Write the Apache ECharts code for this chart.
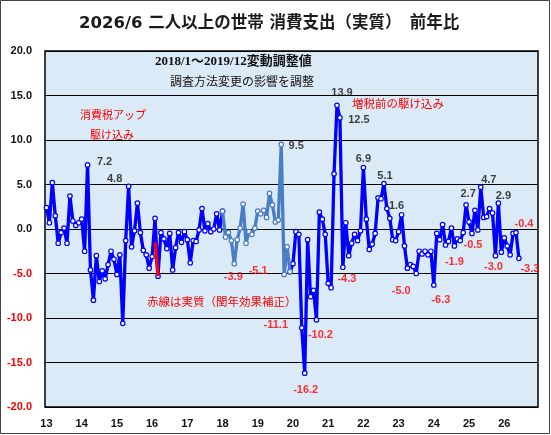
<!DOCTYPE html>
<html><head><meta charset="utf-8">
<script src="https://cdn.jsdelivr.net/npm/echarts@6/dist/echarts.min.js"></script>
<style>html,body{margin:0;padding:0;background:#fff}#c{width:551px;height:435px}</style>
</head><body><div id="c"></div>
<script>
// ---- data (YoY %, real, two-or-more-person households) ----
const y2013 = [2.4, 0.7, 5.2, 1.5, -1.6, -0.4, 0.1, -1.6, 3.7, 0.9, 0.4, 0.7];
const y2014 = [1.1, -2.5, 7.2, -4.6, -8.0, -3.0, -5.9, -4.7, -5.6, -4.0, -2.5, -3.4];
const y2015 = [-5.1, -2.9, -10.6, -1.3, 4.8, -2.0, -0.2, 2.9, -0.4, -2.4, -2.9, -4.4];
const y2016 = [-3.1, 1.2, -5.3, -0.4, -1.1, -2.2, -0.5, -4.6, -2.1, -0.4, -1.5, -0.3];
const y2017 = [-1.2, -3.8, -1.3, -1.4, -0.1, 2.3, -0.2, 0.6, -0.3, 0.0, 1.7, -0.1];
const y2018 = [2.0, -0.9, -0.4, -1.3, -3.9, -1.2, 0.1, 2.8, -1.6, -0.3, -0.6, 0.1];
const y2019 = [2.0, 1.7, 2.1, 1.3, 4.0, 2.7, 0.8, 1.0, 9.5, -5.1, -2.0, -4.8];
const y2020 = [-3.9, -0.3, -0.6, -11.1, -16.2, -1.2, -7.6, -6.9, -10.2, 1.9, 1.1, -0.6];
const y2021 = [-6.1, -6.6, 6.2, 13.9, 12.5, -4.3, 0.7, -3.0, -1.6, -0.6, -1.3, -0.2];
const y2022 = [6.9, 1.1, -2.3, -1.7, -0.5, 3.5, 3.4, 5.1, 2.3, 1.2, -1.2, -1.3];
const y2023 = [-0.3, 1.6, -1.9, -4.4, -4.0, -4.2, -5.0, -2.5, -2.8, -2.5, -2.9, -2.5];
const y2024 = [-6.3, -0.5, -1.2, 0.5, -1.8, -1.4, 0.1, -1.9, -1.1, -1.3, -0.4, 2.7];
const y2025 = [0.8, -0.5, 2.1, -0.1, 4.7, 1.3, 1.4, 2.3, 1.8, -3.0, 2.9, -2.6];
const y2026 = [-1.0, -1.9, -2.9, -0.5, -0.4, -3.3];

const years = [2013,2014,2015,2016,2017,2018,2019,2020,2021,2022,2023,2024,2025,2026];
const xTickLabels = ['13','14','15','16','17','18','19','20','21','22','23','24','25','26'];
const adjustedRange = ['2018/1', '2019/12'];          // 変動調整値 segment
const leapMonths = ['2016/2', '2016/3'];             // red line (閏年効果補正)
const leapValues = [-1.5, -5.3];
const labelMonths = ['2014/3','2015/5','2018/5','2019/9','2019/10','2020/4','2020/5','2020/9',
  '2021/4','2021/5','2021/6','2022/1','2022/8','2023/2','2023/7','2024/1','2024/8','2024/12',
  '2025/2','2025/5','2025/10','2025/11','2026/5','2026/6'];

// ---- build ----
const allValues = [].concat(y2013,y2014,y2015,y2016,y2017,y2018,y2019,y2020,y2021,y2022,y2023,y2024,y2025,y2026);
const categories = [];
years.forEach(y => { for (let m = 1; m <= 12; m++) categories.push(y + '/' + m); });
const idx = c => categories.indexOf(c);
const a0 = idx(adjustedRange[0]), a1 = idx(adjustedRange[1]);

const blueData = allValues.map((v, i) => (i > a0 && i < a1) ? '-' : v);
const lightData = allValues.map((v, i) => (i >= a0 && i <= a1) ? v : '-');
const redData = categories.map(c => { const k = leapMonths.indexOf(c); return k >= 0 ? leapValues[k] : '-'; });

// label offsets (style only)
const labelOffsets = {
  '2014/3':[17,-3], '2015/5':[-14,-7], '2018/5':[-1,13], '2019/9':[15,2], '2019/10':[-26,-3],
  '2020/4':[-26,-3], '2020/5':[1,17], '2020/9':[4,15], '2021/4':[5,-12], '2021/5':[19,2],
  '2021/6':[4,12], '2022/1':[0,-9], '2022/8':[1,-8], '2023/2':[-5,-9], '2023/7':[-15,17],
  '2024/1':[7,15], '2024/8':[0,16], '2024/12':[2,-11], '2025/2':[1,12], '2025/5':[8,-7],
  '2025/10':[-2,11], '2025/11':[5,-7], '2026/5':[8,-9], '2026/6':[11,11]
};
const labelData = labelMonths.map(c => {
  const v = allValues[idx(c)];
  return {
    value: [c, v],
    label: { show: true, position: 'inside', offset: labelOffsets[c] || [0,0],
      color: v < 0 ? '#ff0000' : '#111', formatter: () => v.toFixed(1) }
  };
});

const chart = echarts.init(document.getElementById('c'), null, {renderer: 'canvas'});
const numFont = 'Liberation Sans, Arial, sans-serif';
chart.setOption({
  animation: false,
  backgroundColor: '#ffffff',
  title: {
    text: '2026/6 二人以上の世帯 消費支出（実質）　前年比',
    left: 74, top: 10,
    textStyle: { fontSize: 16.5, fontWeight: 'bold', color: '#1a1a1a', fontFamily: 'DejaVu Sans, Noto Sans CJK JP, sans-serif' }
  },
  grid: { left: 45, right: 13, top: 51, bottom: 28, show: true, backgroundColor: '#dbeaf7', borderColor: '#000', borderWidth: 1.5 },
  xAxis: {
    type: 'category', data: categories, boundaryGap: true,
    axisLine: { show: false }, axisTick: { show: false }, splitLine: { show: false },
    axisLabel: {
      interval: (i) => i % 12 === 0,
      formatter: (v, i) => xTickLabels[Math.floor(i / 12)],
      color: '#111', fontWeight: 'bold', fontSize: 11, fontFamily: numFont, margin: 11
    }
  },
  yAxis: {
    type: 'value', min: -20, max: 20, interval: 5,
    axisLine: { show: false }, axisTick: { show: false },
    splitLine: { show: true, lineStyle: { color: '#000', width: 1 } },
    axisLabel: {
      formatter: v => v.toFixed(1),
      color: v => (v < 0 ? '#ff0000' : '#111'),
      fontWeight: 'bold', fontSize: 11, fontFamily: numFont, margin: 13
    }
  },
  series: [
    { type: 'line', data: blueData, z: 2, connectNulls: false, showAllSymbol: true,
      symbol: 'circle', symbolSize: 4.5,
      itemStyle: { color: '#ffffff', borderColor: '#0000ff', borderWidth: 1.2 },
      lineStyle: { color: '#0000ff', width: 3.3 } },
    { type: 'line', data: lightData, z: 3, showAllSymbol: true,
      symbol: 'circle', symbolSize: 4.5,
      itemStyle: { color: '#ffffff', borderColor: '#4a7dc4', borderWidth: 1.2 },
      lineStyle: { color: '#4a7dc4', width: 3.3 } },
    { type: 'line', data: redData, z: 4, symbol: 'none',
      lineStyle: { color: '#ff0000', width: 3.3 } },
    { type: 'scatter', data: labelData, z: 6, symbolSize: 1,
      itemStyle: { color: 'rgba(0,0,0,0)' },
      label: { fontSize: 11, fontWeight: 'bold', fontFamily: numFont } }
  ],
  graphic: [
    { type: 'rect', shape: { x: 0.5, y: 0.5, width: 549, height: 433 }, style: { fill: 'none', stroke: '#444', lineWidth: 1 }, silent: true },
    { type: 'text', x: 155, y: 62, style: { text: '2018/1～2019/12変動調整値', fill: '#111', font: 'bold 13px "Liberation Serif", "Noto Sans CJK JP", serif', textAlign: 'left', textVerticalAlign: 'middle' } },
    { type: 'text', x: 314, y: 81, style: { text: '調査方法変更の影響を調整', fill: '#111', font: '12px "Noto Sans CJK JP", sans-serif', textAlign: 'right', textVerticalAlign: 'middle' } },
    { type: 'text', x: 80, y: 115, style: { text: '消費税アップ', fill: '#ff0000', font: '11px "Noto Sans CJK JP", sans-serif', textAlign: 'left', textVerticalAlign: 'middle' } },
    { type: 'text', x: 90, y: 135, style: { text: '駆け込み', fill: '#ff0000', font: '11px "Noto Sans CJK JP", sans-serif', textAlign: 'left', textVerticalAlign: 'middle' } },
    { type: 'text', x: 352, y: 104, style: { text: '増税前の駆け込み', fill: '#ff0000', font: '11.5px "Noto Sans CJK JP", sans-serif', textAlign: 'left', textVerticalAlign: 'middle' } },
    { type: 'text', x: 147, y: 302, style: { text: '赤線は実質（閏年効果補正）', fill: '#ff0000', font: '11.5px "Noto Sans CJK JP", sans-serif', textAlign: 'left', textVerticalAlign: 'middle' } }
  ]
});
</script>
</body></html>
